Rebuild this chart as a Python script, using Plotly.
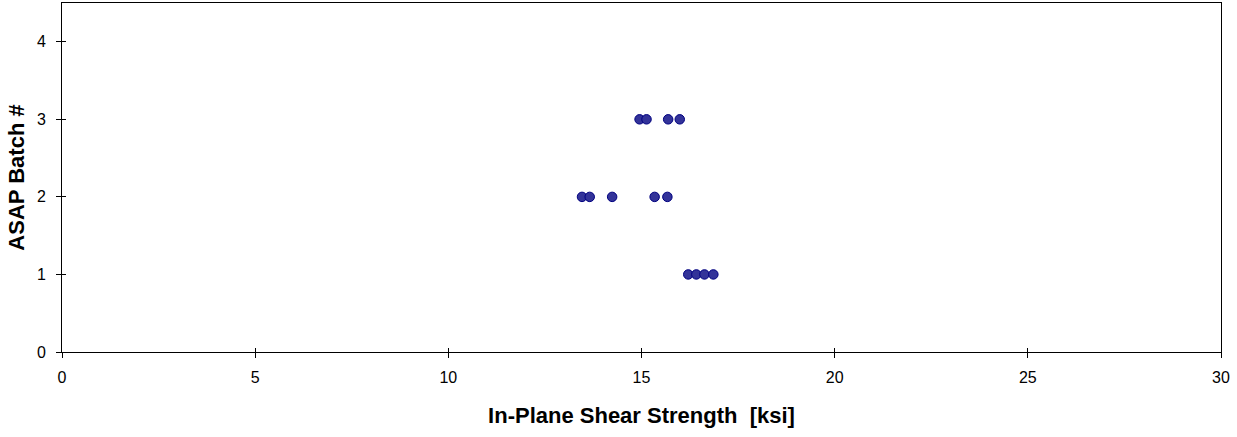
import plotly.graph_objects as go

batch1_x = [16.21, 16.42, 16.63, 16.86]
batch2_x = [13.46, 13.66, 14.24, 15.34, 15.67]
batch3_x = [14.95, 15.13, 15.69, 15.99]

xs = batch1_x + batch2_x + batch3_x
ys = [1] * len(batch1_x) + [2] * len(batch2_x) + [3] * len(batch3_x)

fig = go.Figure()
fig.add_trace(go.Scatter(
    x=xs, y=ys, mode="markers",
    marker=dict(size=9.5, color="#333399", line=dict(color="#000080", width=1)),
    showlegend=False,
))
# dummy trace for inner ticks
fig.add_trace(go.Scatter(x=[None], y=[None], xaxis="x2", yaxis="y2", showlegend=False))

font = "Liberation Sans, Arial, sans-serif"
fig.update_layout(
    width=1237, height=437,
    margin=dict(l=62, r=16, t=3, b=85),
    paper_bgcolor="white", plot_bgcolor="white",
    font=dict(family=font, size=17, color="black"),
    xaxis=dict(
        range=[0, 30], tickvals=[0, 5, 10, 15, 20, 25, 30], showgrid=False, zeroline=False,
        showline=True, linecolor="black", linewidth=1, mirror=True,
        ticks="outside", ticklen=5, tickcolor="black", ticklabelstandoff=6,
        tickfont=dict(size=16),
        title=dict(text="<b>In-Plane Shear Strength  [ksi]</b>", font=dict(size=22), standoff=22),
    ),
    yaxis=dict(
        range=[0, 4.5], tickvals=[0, 1, 2, 3, 4], showgrid=False, zeroline=False,
        showline=True, linecolor="black", linewidth=1, mirror=True,
        ticks="outside", ticklen=5, tickcolor="black", ticklabelstandoff=7,
        tickfont=dict(size=16),
        title=dict(text="<b>ASAP Batch #</b>", font=dict(size=22), standoff=6),
    ),
    xaxis2=dict(range=[0, 30], tickvals=[0, 5, 10, 15, 20, 25, 30], overlaying="x",
                showticklabels=False, ticks="inside", ticklen=4, tickcolor="black",
                showgrid=False, zeroline=False, showline=False, anchor="y2"),
    yaxis2=dict(range=[0, 4.5], tickvals=[0, 1, 2, 3, 4], overlaying="y",
                showticklabels=False, ticks="inside", ticklen=4, tickcolor="black",
                showgrid=False, zeroline=False, showline=False, anchor="x2"),
)
fig.write_html("out.html")
